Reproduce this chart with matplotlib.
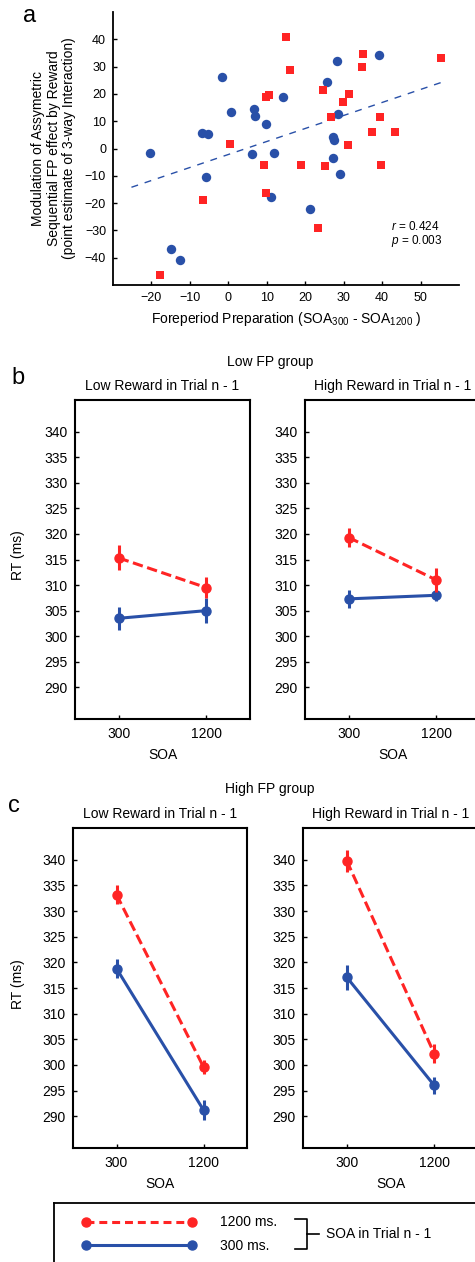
import numpy as np
import matplotlib
matplotlib.use('Agg')
import matplotlib.pyplot as plt

plt.rcParams['font.family'] = ['Liberation Sans', 'DejaVu Sans']
plt.rcParams['mathtext.fontset'] = 'custom'
plt.rcParams['mathtext.rm'] = 'Liberation Sans'
plt.rcParams['mathtext.it'] = 'Liberation Sans:italic'

# panel a: scatter data
blue_x = [-20.4, -14.9, -12.6, -6.8, -5.4, -5.9, -1.6, 0.7, 6.1, 6.7, 7.0, 9.9,
          11.9, 11.1, 14.3, 21.3, 25.6, 28.2, 28.6, 27.3, 27.4, 27.2, 29.0, 39.2]
blue_y = [-1.5, -36.9, -41.0, 5.5, 5.3, -10.5, 26.1, 13.2, -2.0, 14.3, 11.8, 9.0,
          -1.7, -17.8, 19.0, -22.2, 24.4, 32.0, 12.8, 4.2, 3.1, -3.5, -9.3, 34.3]
red_x = [-17.9, -6.7, 0.5, 9.2, 9.9, 9.9, 10.5, 15.0, 16.1, 19.0, 23.3, 24.6,
         25.2, 26.7, 29.9, 31.4, 31.1, 34.8, 35.1, 37.4, 39.4, 39.8, 43.3, 55.2]
red_y = [-46.2, -19.0, 1.5, -6.2, -16.4, 19.0, 19.7, 40.7, 28.9, -5.9, -29.3, 21.6,
         -6.5, 11.4, 17.2, 20.1, 1.1, 29.7, 34.7, 6.2, 11.4, -5.9, 5.9, 33.2]
fit_x = [-25.2, 55.4]
fit_y = [-14.2, 24.2]

# panels b, c: RT (ms) at SOA 300 / 1200
soa = ['300', '1200']
low_left_red = [315.3, 309.5]
low_left_red_err = [2.45, 2.1]
low_left_blue = [303.5, 305.0]
low_left_blue_err = [2.2, 2.4]
low_right_red = [319.3, 311.0]
low_right_red_err = [1.8, 2.35]
low_right_blue = [307.3, 308.0]
low_right_blue_err = [1.8, 1.1]

high_left_red = [333.2, 299.6]
high_left_red_err = [1.9, 1.3]
high_left_blue = [318.8, 291.2]
high_left_blue_err = [1.9, 1.9]
high_right_red = [339.8, 302.2]
high_right_red_err = [2.1, 1.8]
high_right_blue = [317.1, 296.0]
high_right_blue_err = [2.45, 1.6]

RED = '#ff2424'
BLUE = '#2950a8'

W, H = 475, 1262
fig = plt.figure(figsize=(W / 100, H / 100), dpi=100)


def box(x0, y0, x1, y1):
    return [x0 / W, 1 - y1 / H, (x1 - x0) / W, (y1 - y0) / H]


def ftext(x, y, s, **kw):
    fig.text(x / W, 1 - y / H, s, **kw)


# ---- panel a
ax = fig.add_axes(box(113, 12, 459, 285))
ax.scatter(blue_x, blue_y, s=46, color=BLUE, marker='o', linewidths=0, zorder=3)
ax.scatter(red_x, red_y, s=36, color=RED, marker='s', linewidths=0, zorder=3)
ax.plot(fit_x, fit_y, color=BLUE, lw=1.0, dashes=(5, 5), zorder=2)
ax.set_xlim(-30, 60)
ax.set_ylim(-50, 50)
ax.set_xticks(range(-20, 51, 10))
ax.set_yticks(range(-40, 41, 10))
ax.set_xticklabels([str(v).replace('-', '\u2212') for v in range(-20, 51, 10)])
ax.set_yticklabels([str(v).replace('-', '\u2212') for v in range(-40, 41, 10)])
ax.spines['top'].set_visible(False)
ax.spines['right'].set_visible(False)
for s in ['left', 'bottom']:
    ax.spines[s].set_linewidth(1.3)
ax.tick_params(direction='in', length=3, width=1, labelsize=9, pad=5)
ax.set_xlabel(r'Foreperiod Preparation (SOA$_{\mathrm{300}}$ - SOA$_{\mathrm{1200}}$ )', fontsize=10, labelpad=4)
ax.set_ylabel('Modulation of Assymetric\nSequential FP effect by Reward\n(point estimate of 3-way Interaction)',
              fontsize=10, linespacing=1.15, labelpad=6)
ax.text(42.3, -28.5, r'$\mathit{r}$ = 0.424', fontsize=8.5, va='center')
ax.text(42.3, -33.7, r'$\mathit{p}$ = 0.003', fontsize=8.5, va='center')
ftext(30, 16, 'a', fontsize=17, ha='center', va='center')


def rt_panel(rect, red, red_err, blue, blue_err, title):
    a = fig.add_axes(rect)
    xs = np.arange(1, len(soa) + 1)
    a.errorbar(xs, blue, yerr=blue_err, color=BLUE, lw=2.2, elinewidth=2.2,
               marker='o', ms=6.5, capsize=0, zorder=3)
    a.errorbar(xs, red, yerr=red_err, color=RED, lw=2.2, elinewidth=2.2,
               marker='o', ms=6.5, capsize=0, ls='--', dashes=(3.4, 1.5), zorder=4)
    a.set_xlim(0.5, 2.5)
    a.set_ylim(283.8, 346.2)
    a.set_xticks(xs)
    a.set_xticklabels(soa)
    a.set_yticks(range(290, 341, 5))
    for s in a.spines.values():
        s.set_linewidth(1.5)
    a.tick_params(direction='in', length=3, width=1, labelsize=10, pad=5.5)
    a.set_xlabel('SOA', fontsize=10, labelpad=5)
    a.set_title(title, fontsize=10, pad=7)
    return a


bl = rt_panel(box(75, 400, 250, 719), low_left_red, low_left_red_err,
              low_left_blue, low_left_blue_err, 'Low Reward in Trial n - 1')
br = rt_panel(box(305, 400, 480, 719), low_right_red, low_right_red_err,
              low_right_blue, low_right_blue_err, 'High Reward in Trial n - 1')
cl = rt_panel(box(73, 828, 247, 1148), high_left_red, high_left_red_err,
              high_left_blue, high_left_blue_err, 'Low Reward in Trial n - 1')
cr = rt_panel(box(303, 828, 478, 1148), high_right_red, high_right_red_err,
              high_right_blue, high_right_blue_err, 'High Reward in Trial n - 1')

ftext(18, 555, 'RT (ms)', fontsize=10, rotation=90, ha='center', va='center')
ftext(18, 984, 'RT (ms)', fontsize=10, rotation=90, ha='center', va='center')
ftext(270, 362, 'Low FP group', fontsize=10, ha='center', va='center')
ftext(270, 789, 'High FP group', fontsize=10, ha='center', va='center')
ftext(18, 378, 'b', fontsize=17, ha='center', va='center')
ftext(14, 806, 'c', fontsize=17, ha='center', va='center')

# ---- legend box
lg = fig.add_axes(box(54, 1203, 485, 1275))
lg.set_xticks([])
lg.set_yticks([])
for s in lg.spines.values():
    s.set_linewidth(1.3)
h_red, = lg.plot([], [], color=RED, lw=2.2, ls='--', dashes=(2.6, 1.6), marker='o', ms=6.5)
h_blue, = lg.plot([], [], color=BLUE, lw=2.2, marker='o', ms=6.5)
leg = lg.legend([h_red, h_blue], ['1200 ms.', '300 ms.'], numpoints=2, frameon=False,
                fontsize=10, handlelength=8.2, handletextpad=1.75, labelspacing=0.68,
                loc='upper left', bbox_to_anchor=(82 / W, 1 - 1215.5 / H),
                bbox_transform=fig.transFigure, borderaxespad=0, borderpad=0)
ftext(326, 1234, 'SOA in Trial n - 1', fontsize=10, ha='left', va='center')
fig.add_artist(plt.Line2D([295 / W, 306.5 / W, 306.5 / W, 295 / W],
                          [1 - 1219 / H, 1 - 1219 / H, 1 - 1249 / H, 1 - 1249 / H],
                          color='black', lw=1.2))
fig.add_artist(plt.Line2D([306.5 / W, 319 / W], [1 - 1234 / H, 1 - 1234 / H],
                          color='black', lw=1.2))

fig.savefig('out.png', dpi=100)
